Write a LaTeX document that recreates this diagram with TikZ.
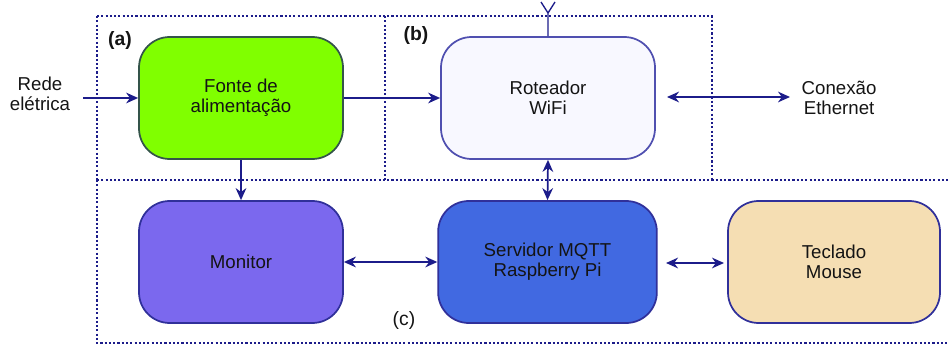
\documentclass[tikz,border=0pt]{standalone}
\usepackage{fontspec}
\setmainfont{Liberation Sans}
\usetikzlibrary{arrows.meta}
\definecolor{navy}{HTML}{1C1C8A}
\definecolor{boxline}{HTML}{30309A}
\definecolor{fontefill}{HTML}{80FF00}
\definecolor{fonteline}{HTML}{34544A}
\definecolor{rotfill}{HTML}{F8F8FF}
\definecolor{rotline}{HTML}{5050B0}
\definecolor{monfill}{HTML}{7B68EE}
\definecolor{servfill}{HTML}{4169E1}
\definecolor{tecfill}{HTML}{F5DEB3}
\definecolor{txt}{HTML}{141414}
\tikzset{
  blk/.style={draw=boxline, line width=1.3pt, rounded corners=23pt, align=center,
    minimum height=91.5pt, inner sep=0pt, text=txt, font=\fontsize{14}{15}\selectfont},
  conn/.style={navy, line width=1.3pt},
  tipped/.style={conn, -{Stealth[length=9pt,width=8pt]}},
  both/.style={conn, {Stealth[length=9pt,width=8pt]}-{Stealth[length=9pt,width=8pt]}},
  region/.style={navy, line width=0.8pt, dash pattern=on 1.6pt off 1.6pt},
  lbl/.style={text=txt, font=\fontsize{14}{15}\selectfont, align=center},
  tag/.style={text=txt, font=\fontsize{14.5}{15}\selectfont\bfseries}
}
\begin{document}
\begin{tikzpicture}[x=0.75pt,y=-0.75pt]
\useasboundingbox (0,0) rectangle (949,345);
% regions
\draw[region] (97,16) -- (712,16) -- (712,179);
\draw[region] (97,16) -- (97,180);
\draw[region] (385,16) -- (385,180);
\draw[region] (97,180) -- (949,180);
\draw[region] (97,180) -- (97,343) -- (949,343);
% boxes
\node[blk, fill=fontefill, draw=fonteline, minimum width=153pt] (fonte) at (241,98) {Fonte de\\alimentação};
\node[blk, fill=rotfill, draw=rotline, minimum width=160.5pt] (rot) at (548,98) {Roteador\\WiFi};
\node[blk, fill=monfill, minimum width=153pt] (mon) at (241,262) {Monitor};
\node[blk, fill=servfill, minimum width=164pt] (serv) at (547.5,262) {Servidor MQTT\\Raspberry Pi};
\node[blk, fill=tecfill, minimum width=159pt] (tec) at (834,262) {Teclado\\Mouse};
% labels
\node[lbl] (rede) at (40,94) {Rede\\elétrica};
\node[lbl, anchor=west] (eth) at (797,98) {Conexão\\Ethernet};
\node[tag] (la) at (120,41) {(a)};
\node[tag] (lb) at (416,36) {(b)};
\node[text=txt, font=\fontsize{14.5}{15}\selectfont] (lc) at (404,320) {(c)};
% antenna
\coordinate (ant) at (548,13);
\coordinate (antl) at (541,2);
\coordinate (antr) at (555,2);
\draw[conn, line width=1pt] (rot.north) -- (ant) -- (antl);
\draw[conn, line width=1pt] (ant) -- (antr);
% connectors
\coordinate (redeend) at (83,98);
\draw[tipped] (redeend) -- (fonte.west |- redeend);
\draw[tipped] (fonte.east) -- (rot.west);
\coordinate (eths) at (667,97);
\coordinate (ethe) at (790,97);
\draw[both] (eths) -- (ethe);
\draw[tipped] (fonte.south) -- (mon.north);
\draw[both] (rot.south) -- (serv.north);
\draw[both] (mon.east) -- (serv.west);
\coordinate (ts) at (666,263);
\coordinate (te) at (724,263);
\draw[both] (ts) -- (te);
\end{tikzpicture}
\end{document}
